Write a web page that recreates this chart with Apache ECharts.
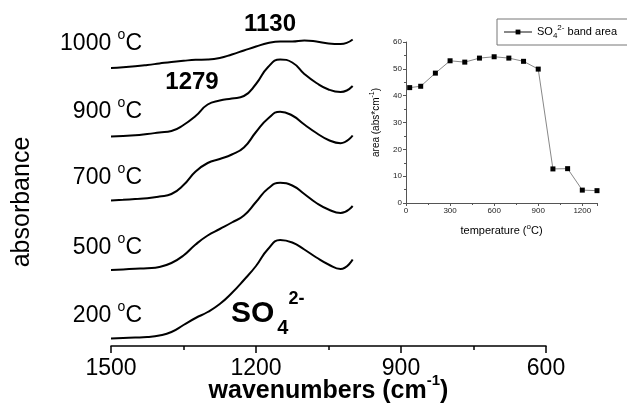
<!DOCTYPE html>
<html lang="en">
<head>
    <meta charset="utf-8">
    <title>SO4 IR spectra</title>
    <script src="https://cdn.jsdelivr.net/npm/echarts@6/dist/echarts.min.js"></script>
    <style>
        html, body { margin: 0; padding: 0; background: #fff; }
        #main { width: 627px; height: 410px; }
    </style>
</head>
<body>
<div id="main"></div>
<script>
    // spectra, offset stacked (wavenumber in cm-1)
    var wavenumbers = [1500, 1475, 1450, 1425, 1400, 1375, 1350, 1325, 1300, 1275, 1250,
                       1225, 1200, 1175, 1150, 1125, 1100, 1075, 1050, 1025, 1000];
    var abs200  = [0.075, 0.08, 0.084, 0.09, 0.105, 0.14, 0.21, 0.28, 0.34, 0.42, 0.53,
                   0.66, 0.80, 0.97, 1.06, 1.035, 0.965, 0.885, 0.815, 0.77, 0.865];
    var abs500  = [0.76, 0.766, 0.772, 0.778, 0.79, 0.83, 0.905, 1.015, 1.105, 1.17, 1.235,
                   1.305, 1.44, 1.575, 1.632, 1.605, 1.52, 1.43, 1.365, 1.33, 1.40];
    var abs700  = [1.455, 1.462, 1.47, 1.478, 1.495, 1.52, 1.61, 1.745, 1.83, 1.87, 1.915,
                   1.985, 2.14, 2.275, 2.343, 2.305, 2.215, 2.13, 2.06, 2.028, 2.105];
    var abs900  = [2.095, 2.10, 2.107, 2.12, 2.135, 2.15, 2.21, 2.30, 2.415, 2.455, 2.475,
                   2.50, 2.62, 2.79, 2.865, 2.835, 2.72, 2.63, 2.565, 2.54, 2.60];
    var abs1000 = [2.78, 2.787, 2.797, 2.81, 2.825, 2.84, 2.852, 2.862, 2.865, 2.88, 2.915,
                   2.955, 2.995, 3.03, 3.045, 3.045, 3.055, 3.045, 3.025, 3.02, 3.065];
    var spectraLabels = ['200', '500', '700', '900', '1000'];

    // inset: band area vs temperature
    var temps = [25, 100, 200, 300, 400, 500, 600, 700, 800, 900, 1000, 1100, 1200, 1300];
    var bandArea = [43.0, 43.5, 48.4, 53.0, 52.5, 54.0, 54.5, 54.0, 52.8, 49.9, 12.7, 12.8, 4.8, 4.6];

    var FONT = "'Liberation Sans', Arial, sans-serif";

    function pairs(xs, ys) {
        var out = [];
        for (var i = 0; i < xs.length; i++) out.push([xs[i], ys[i]]);
        return out;
    }

    var spectra = [abs200, abs500, abs700, abs900, abs1000];
    var series = [];
    for (var s = 0; s < spectra.length; s++) {
        series.push({
            name: spectraLabels[s] + ' C',
            type: 'line',
            xAxisIndex: 0,
            yAxisIndex: 0,
            data: pairs(wavenumbers, spectra[s]),
            showSymbol: false,
            smooth: 0.5,
            silent: true,
            lineStyle: { color: '#000', width: 2 }
        });
    }
    series.push({
        name: 'band',
        type: 'line',
        xAxisIndex: 1,
        yAxisIndex: 1,
        data: pairs(temps, bandArea),
        symbol: 'rect',
        symbolSize: 5,
        lineStyle: { color: '#888', width: 1 },
        itemStyle: { color: '#000' }
    });

    // temperature labels next to each curve
    var labelY = [316, 248, 178, 112, 44];
    var graphics = [];
    for (var k = 0; k < spectraLabels.length; k++) {
        graphics.push({
            type: 'text',
            x: 142,
            y: labelY[k],
            style: {
                text: spectraLabels[k] + ' {s|o}C',
                align: 'right', textAlign: 'right',
                verticalAlign: 'middle', textVerticalAlign: 'middle',
                fill: '#000',
                font: '23px ' + FONT,
                lineHeight: 32,
                rich: { s: { fontSize: 14, lineHeight: 14, verticalAlign: 'top', fontFamily: FONT, fill: '#000' } }
            }
        });
    }
    graphics.push({
        type: 'text', x: 270, y: 24,
        style: { text: '1130', align: 'center', textAlign: 'center', verticalAlign: 'middle', textVerticalAlign: 'middle',
                 fill: '#000', font: 'bold 24px ' + FONT }
    });
    graphics.push({
        type: 'text', x: 192, y: 82,
        style: { text: '1279', align: 'center', textAlign: 'center', verticalAlign: 'middle', textVerticalAlign: 'middle',
                 fill: '#000', font: 'bold 24px ' + FONT }
    });
    graphics.push({
        type: 'text', x: 231, y: 314,
        style: {
            text: 'SO{b|4}{t|2-}',
            align: 'left', textAlign: 'left', verticalAlign: 'middle', textVerticalAlign: 'middle',
            fill: '#000', font: 'bold 30px ' + FONT, lineHeight: 48,
            rich: {
                b: { fontSize: 20, lineHeight: 20, verticalAlign: 'bottom', fontWeight: 'bold', fontFamily: FONT, fill: '#000', padding: [0, 0, 0, 3] },
                t: { fontSize: 18, lineHeight: 18, verticalAlign: 'top', fontWeight: 'bold', fontFamily: FONT, fill: '#000' }
            }
        }
    });
    graphics.push({
        type: 'text', x: 22, y: 202, rotation: Math.PI / 2,
        style: { text: 'absorbance', align: 'center', textAlign: 'center', verticalAlign: 'middle', textVerticalAlign: 'middle',
                 fill: '#000', font: '25px ' + FONT }
    });

    var myChart = echarts.init(document.getElementById('main'));
    var option = {
        animation: false,
        backgroundColor: '#fff',
        textStyle: { fontFamily: FONT },
        legend: {
            data: ['band'],
            left: 497,
            top: 19,
            padding: [5, 12, 5, 6],
            borderColor: '#777',
            borderWidth: 1,
            itemWidth: 28,
            itemHeight: 6,
            formatter: function () { return 'SO{b|4}{t|2-} band area'; },
            textStyle: {
                fontSize: 11, color: '#000', fontFamily: FONT, lineHeight: 16,
                rich: {
                    b: { fontSize: 8, lineHeight: 8, verticalAlign: 'bottom', color: '#000' },
                    t: { fontSize: 8, lineHeight: 8, verticalAlign: 'top', color: '#000' }
                }
            }
        },
        grid: [
            { left: 111, right: 81, top: 0, bottom: 64, outerBoundsMode: 'none', containLabel: false },
            { left: 406, right: 30, top: 42, bottom: 207, outerBoundsMode: 'none', containLabel: false }
        ],
        xAxis: [
            {
                gridIndex: 0,
                type: 'value',
                min: 600,
                max: 1500,
                interval: 300,
                inverse: true,
                splitLine: { show: false },
                axisLine: { lineStyle: { color: '#000', width: 1.5 } },
                axisTick: { length: 7, lineStyle: { color: '#000', width: 1.5 } },
                minorTick: { show: true, splitNumber: 2, length: 4, lineStyle: { color: '#000', width: 1.5 } },
                axisLabel: {
                    color: '#000', fontSize: 23, margin: 11, fontFamily: FONT,
                    formatter: function (v) { return String(v); }
                },
                name: 'wavenumbers (cm{t|-1})',
                nameLocation: 'middle',
                nameGap: 27,
                nameMoveOverlap: false,
                nameTextStyle: {
                    color: '#000', fontSize: 25, fontWeight: 'bold', fontFamily: FONT, lineHeight: 37,
                    rich: { t: { fontSize: 15, lineHeight: 15, verticalAlign: 'top', fontWeight: 'bold', color: '#000' } }
                }
            },
            {
                gridIndex: 1,
                type: 'value',
                min: 0,
                max: 1300,
                interval: 300,
                splitLine: { show: false },
                axisLine: { lineStyle: { color: '#555', width: 1 } },
                axisTick: { length: 3, lineStyle: { color: '#555' } },
                minorTick: { show: true, splitNumber: 2, length: 2, lineStyle: { color: '#555' } },
                axisLabel: {
                    color: '#222', fontSize: 8, margin: 4, showMaxLabel: false, fontFamily: FONT,
                    formatter: function (v) { return String(v); }
                },
                name: 'temperature ({t|o}C)',
                nameLocation: 'middle',
                nameGap: 20,
                nameMoveOverlap: false,
                nameTextStyle: {
                    color: '#000', fontSize: 11, fontFamily: FONT, lineHeight: 16,
                    rich: { t: { fontSize: 8, lineHeight: 8, verticalAlign: 'top', color: '#000' } }
                }
            }
        ],
        yAxis: [
            {
                gridIndex: 0,
                type: 'value',
                min: 0,
                max: 3.46,
                show: false
            },
            {
                gridIndex: 1,
                type: 'value',
                min: 0,
                max: 60,
                interval: 10,
                splitLine: { show: false },
                axisLine: { show: true, lineStyle: { color: '#555', width: 1 } },
                axisTick: { show: true, length: 3, lineStyle: { color: '#555' } },
                minorTick: { show: true, splitNumber: 2, length: 2, lineStyle: { color: '#555' } },
                axisLabel: { color: '#222', fontSize: 8, margin: 4, fontFamily: FONT },
                name: 'area (abs*cm{t|-1})',
                nameLocation: 'middle',
                nameRotate: 90,
                nameGap: 22,
                nameMoveOverlap: false,
                nameTextStyle: {
                    color: '#000', fontSize: 10, fontFamily: FONT, lineHeight: 15,
                    rich: { t: { fontSize: 7, lineHeight: 7, verticalAlign: 'top', color: '#000' } }
                }
            }
        ],
        graphic: graphics,
        series: series
    };
    myChart.setOption(option);
</script>
</body>
</html>
